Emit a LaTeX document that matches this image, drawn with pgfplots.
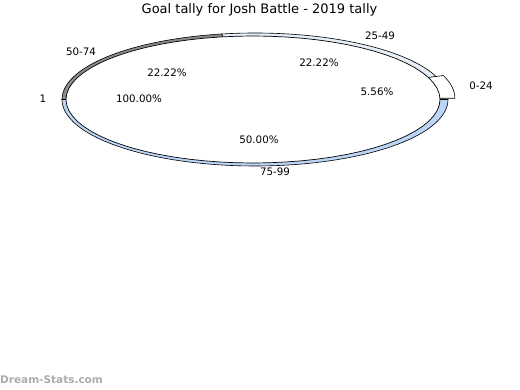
\documentclass[border=0pt]{standalone}
\usepackage{pgfplots}
\pgfplotsset{compat=1.18}
\usepackage{fontspec}
\setmainfont{DejaVu Sans}
\definecolor{sliceA}{HTML}{FFFFFF}
\definecolor{sliceB}{HTML}{E6EEFA}
\definecolor{sliceC}{HTML}{8A8A8A}
\definecolor{sliceD}{HTML}{BBD5F7}
% data: goals per range (0-24, 25-49, 50-74, 75-99)
\def\vA{1}\def\vB{4}\def\vC{4}\def\vD{9}
\pgfmathsetmacro\tot{\vA+\vB+\vC+\vD}
\pgfmathsetmacro\aA{0}
\pgfmathsetmacro\aB{\aA+360*\vA/\tot}
\pgfmathsetmacro\aC{\aB+360*\vB/\tot}
\pgfmathsetmacro\aD{\aC+360*\vC/\tot}
\pgfmathsetmacro\aE{\aD+360*\vD/\tot}
% arc builder: start, end, cx, cy, rx, ry, first point -> \wedgecoords
\newcommand\buildarc[7]{%
  \xdef\wedgecoords{#7}%
  \pgfmathsetmacro\st{(#2-#1)/72}%
  \foreach \k in {0,...,72}{%
    \pgfmathsetmacro\t{#1+\k*\st}%
    \pgfmathsetmacro\px{#3+#5*cos(\t)}%
    \pgfmathsetmacro\py{#4-#6*sin(\t)}%
    \xdef\wedgecoords{\wedgecoords (\px,\py)}%
  }%
}
\def\cx{255}\def\cy{99.5}\def\rx{193}\def\ry{66.5}
\pgfmathsetmacro\midA{(\aA+\aB)/2}
\pgfmathsetmacro\exx{\cx+7*cos(\midA)}
\pgfmathsetmacro\exy{\cy-7*sin(\midA)}
\buildarc{\aB}{\aC}{\cx}{\cy}{\rx}{\ry}{(\cx,\cy)}\global\let\wB\wedgecoords
\buildarc{\aC}{\aD}{\cx}{\cy}{\rx}{\ry}{(\cx,\cy)}\global\let\wC\wedgecoords
\buildarc{\aD}{\aE}{\cx}{\cy}{\rx}{\ry}{(\cx,\cy)}\global\let\wD\wedgecoords
\buildarc{\aA}{\aB}{\exx}{\exy}{\rx}{\ry}{(\exx,\exy)}\global\let\wA\wedgecoords
\buildarc{0}{360}{253}{99.5}{187}{63.5}{}\global\let\wIn\wedgecoords
\begin{document}
\begin{tikzpicture}
\begin{axis}[scale only axis, width=520pt, height=390pt,
  xmin=0, xmax=520, ymin=0, ymax=390, y dir=reverse,
  hide axis, clip=false]
\draw[draw=none] (axis cs:0,0) rectangle (axis cs:520,390);
\edef\tmp{\noexpand\addplot[fill=sliceB, draw=black, line width=0.6pt] coordinates {\wB} -- cycle;}\tmp
\edef\tmp{\noexpand\addplot[fill=sliceC, draw=black, line width=0.6pt] coordinates {\wC} -- cycle;}\tmp
\edef\tmp{\noexpand\addplot[fill=sliceD, draw=black, line width=0.6pt] coordinates {\wD} -- cycle;}\tmp
\edef\tmp{\noexpand\addplot[fill=sliceA, draw=black, line width=0.6pt] coordinates {\wA} -- cycle;}\tmp
\edef\tmp{\noexpand\addplot[fill=white, draw=black, line width=0.7pt] coordinates {\wIn} -- cycle;}\tmp
\begin{scope}[every node/.style={font=\fontsize{10.3}{12}\selectfont, inner sep=0pt}]
\node[font=\fontsize{13}{15}\selectfont] at (axis cs:259.5,10) {Goal tally for Josh Battle - 2019 tally};
\node at (axis cs:380,36) {25-49};
\node at (axis cs:481,86) {0-24};
\node at (axis cs:81,52) {50-74};
\node at (axis cs:43,99) {1};
\node at (axis cs:275,172) {75-99};
\node at (axis cs:167,73) {22.22\%};
\node at (axis cs:319,63) {22.22\%};
\node at (axis cs:377,92) {5.56\%};
\node at (axis cs:139,99) {100.00\%};
\node at (axis cs:259,140) {50.00\%};
\node[anchor=west, text=gray!65, font=\fontsize{10.5}{12}\selectfont\bfseries] at (axis cs:0,380) {Dream-Stats.com};
\end{scope}
\end{axis}
\end{tikzpicture}
\end{document}
